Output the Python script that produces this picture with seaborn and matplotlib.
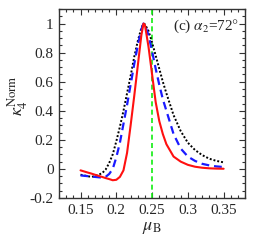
import numpy as np
import pandas as pd
import matplotlib
matplotlib.use("Agg")
import matplotlib.pyplot as plt
from matplotlib.ticker import MultipleLocator
import seaborn as sns

mu_b = [0.15, 0.16, 0.165, 0.17, 0.18, 0.185, 0.19, 0.195, 0.20, 0.205, 0.21,
        0.215, 0.22, 0.225, 0.23, 0.235, 0.238, 0.24, 0.245, 0.25, 0.255,
        0.26, 0.265, 0.27, 0.28, 0.29, 0.30, 0.31, 0.32, 0.33, 0.34, 0.35]

kappa_red = [-0.01, -0.025, -0.032, -0.04, -0.055, -0.063, -0.07, -0.078,
             -0.075, -0.055, -0.01, 0.11, 0.30, 0.50, 0.71, 0.92, 1.0, 0.99,
             0.84, 0.65, 0.46, 0.33, 0.24, 0.17, 0.085, 0.05, 0.028, 0.015,
             0.008, 0.004, 0.002, 0.001]

kappa_blue = [-0.045, -0.05, -0.053, -0.055, -0.06, -0.055, -0.035, 0.0,
              0.08, 0.18, 0.31, 0.44, 0.58, 0.72, 0.85, 0.96, 1.0, 0.99,
              0.92, 0.81, 0.69, 0.58, 0.48, 0.40, 0.24, 0.14, 0.085, 0.055,
              0.035, 0.024, 0.017, 0.013]

kappa_black = [-0.04, -0.05, -0.055, -0.05, -0.03, -0.005, 0.04, 0.10,
               0.19, 0.29, 0.40, 0.52, 0.64, 0.77, 0.88, 0.97, 1.0, 0.995,
               0.95, 0.87, 0.78, 0.69, 0.60, 0.52, 0.37, 0.26, 0.18, 0.13,
               0.095, 0.07, 0.055, 0.045]

mu_crit = 0.25


def main():
    sns.set_style("ticks")
    plt.rcParams["font.family"] = ["Liberation Serif", "DejaVu Serif"]
    plt.rcParams["mathtext.fontset"] = "stix"

    df = pd.DataFrame({"mu": mu_b, "red": kappa_red, "blue": kappa_blue,
                       "black": kappa_black})

    fig = plt.figure(figsize=(2.58, 2.45), dpi=100)
    ax = fig.add_axes([0.229, 0.192, 0.721, 0.771])

    ax.axvline(mu_crit, color="#11ee11", lw=1.2, ls=(0, (3, 2)), zorder=1)
    sns.lineplot(data=df, x="mu", y="black", ax=ax, color="black", lw=1.4,
                 ls=(0, (1, 1)), zorder=2)
    sns.lineplot(data=df, x="mu", y="blue", ax=ax, color="#1a1aff", lw=1.6,
                 ls=(0, (3.5, 2.2)), zorder=3)
    sns.lineplot(data=df, x="mu", y="red", ax=ax, color="#ff1010", lw=1.5,
                 zorder=4)

    ax.set_xlim(0.12, 0.38)
    ax.set_ylim(-0.2, 1.1)
    ax.xaxis.set_minor_locator(MultipleLocator(0.01))
    ax.yaxis.set_minor_locator(MultipleLocator(0.05))
    ax.set_xticks([0.15, 0.2, 0.25, 0.3, 0.35])
    ax.set_xticklabels(["0.15", "0.2", "0.25", "0.3", "0.35"])
    ax.set_yticks([-0.2, 0, 0.2, 0.4, 0.6, 0.8, 1])
    ax.set_yticklabels(["-0.2", "0", "0.2", "0.4", "0.6", "0.8", "1"])
    ax.tick_params(which="both", direction="in", top=True, right=True,
                   labelsize=11, color="#333333", width=0.8, pad=4)
    ax.tick_params(which="major", length=4)
    ax.tick_params(which="minor", length=2)
    for s in ax.spines.values():
        s.set_linewidth(1.0)
        s.set_color("#333333")

    ax.set_xlabel(r"$\mu_{\rm B}$", fontsize=13, labelpad=2)
    ax.set_ylabel(r"$\kappa_4^{\rm Norm}$", fontsize=13, labelpad=0)
    ax.yaxis.set_label_coords(-0.155, 0.54)
    ax.text(0.97, 0.91, r"(c) $\alpha_2$=72$\degree$", transform=ax.transAxes,
            ha="right", va="center", fontsize=11)

    fig.savefig("out.png", dpi=100)
    plt.close(fig)


if __name__ == "__main__":
    main()
